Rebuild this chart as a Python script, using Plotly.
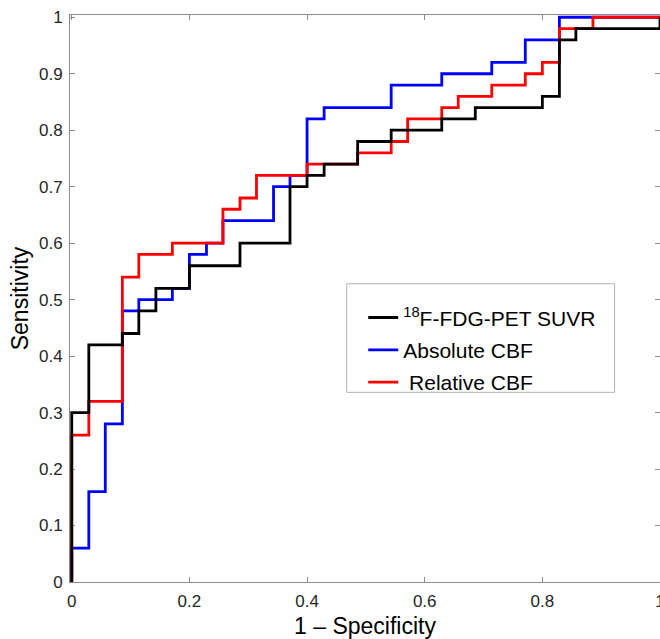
import plotly.graph_objects as go

# ROC step points (1 - specificity, sensitivity); drawn with vertical-then-horizontal steps
fdg_fpr = [0, 0.029, 0.086, 0.114, 0.143, 0.2, 0.286, 0.371, 0.4, 0.429, 0.486, 0.543,
           0.629, 0.686, 0.8, 0.829, 0.857, 1.0, 1.0]
fdg_tpr = [0, 0.30, 0.42, 0.44, 0.48, 0.52, 0.56, 0.60, 0.70, 0.72, 0.74, 0.78,
           0.80, 0.82, 0.84, 0.86, 0.96, 0.98, 1.0]

abs_fpr = [0, 0.029, 0.057, 0.086, 0.114, 0.171, 0.2, 0.229, 0.257, 0.343, 0.371, 0.4,
           0.429, 0.543, 0.629, 0.714, 0.771, 0.829, 1.0]
abs_tpr = [0, 0.06, 0.16, 0.28, 0.48, 0.50, 0.52, 0.58, 0.60, 0.64, 0.70, 0.72,
           0.82, 0.84, 0.88, 0.90, 0.92, 0.96, 1.0]

rel_fpr = [0, 0.029, 0.086, 0.114, 0.171, 0.257, 0.286, 0.314, 0.4, 0.486, 0.543, 0.571,
           0.629, 0.657, 0.714, 0.771, 0.8, 0.829, 0.886, 1.0]
rel_tpr = [0, 0.26, 0.32, 0.54, 0.58, 0.60, 0.66, 0.68, 0.72, 0.74, 0.76, 0.78,
           0.82, 0.84, 0.86, 0.88, 0.90, 0.92, 0.98, 1.0]

series_names = ["<sup>18</sup>F-FDG-PET SUVR", "Absolute CBF", " Relative CBF"]
series_colors = ["#000000", "#0000FF", "#FF0000"]

FONT = "Liberation Sans, Arial, Helvetica, sans-serif"

fig = go.Figure()
# draw order: blue, red, black (black on top); legend order: black, blue, red
for idx in (1, 2, 0):
    fpr = [fdg_fpr, abs_fpr, rel_fpr][idx]
    tpr = [fdg_tpr, abs_tpr, rel_tpr][idx]
    fig.add_trace(go.Scatter(
        x=fpr, y=tpr, mode="lines", name=series_names[idx],
        line=dict(color=series_colors[idx], width=2.8, shape="vh"),
        legendrank=idx + 1, legendgroup=f"g{idx}", hoverinfo="skip",
    ))

axis_common = dict(
    showline=True, linecolor="#8c8c8c", linewidth=1, mirror="ticks",
    ticks="inside", ticklen=5, tickcolor="#8c8c8c", tickwidth=1,
    showgrid=False, zeroline=False, automargin=False,
    tickfont=dict(family=FONT, size=17, color="#262626"),
    layer="below traces", ticklabeloverflow="allow",
)

fig.update_xaxes(range=[-0.003, 1.0], tick0=0, dtick=0.2, ticklabelstandoff=4,
                 title=dict(text="1 – Specificity", font=dict(family=FONT, size=23, color="#000"),
                            standoff=7),
                 **axis_common)
fig.update_yaxes(range=[0, 1.004], tick0=0, dtick=0.1, ticklabelstandoff=3,
                 title=dict(text="Sensitivity", font=dict(family=FONT, size=23, color="#000"),
                            standoff=3),
                 **axis_common)

fig.add_shape(type="rect", xref="paper", yref="paper",
              x0=0.469, x1=0.923, y0=0.3345, y1=0.526,
              line=dict(color="#b4b4b4", width=1), fillcolor="white", layer="below")

fig.update_layout(
    width=660, height=639,
    margin=dict(l=70, r=0, t=15, b=57, autoexpand=False),
    paper_bgcolor="white", plot_bgcolor="white",
    showlegend=True,
    legend=dict(x=0.497, y=0.502, xanchor="left", yanchor="top",
                bgcolor="rgba(0,0,0,0)", borderwidth=0,
                font=dict(family=FONT, size=21, color="#000"),
                traceorder="grouped", tracegroupgap=2),
)

fig.write_html("out.html", config={"displayModeBar": False})

# remove the browser's default page margin so the figure sits at the window origin
with open("out.html", "r", encoding="utf-8") as f:
    html = f.read()
html = html.replace("<body>", '<body style="margin:0;padding:0;overflow:hidden">', 1)
with open("out.html", "w", encoding="utf-8") as f:
    f.write(html)
